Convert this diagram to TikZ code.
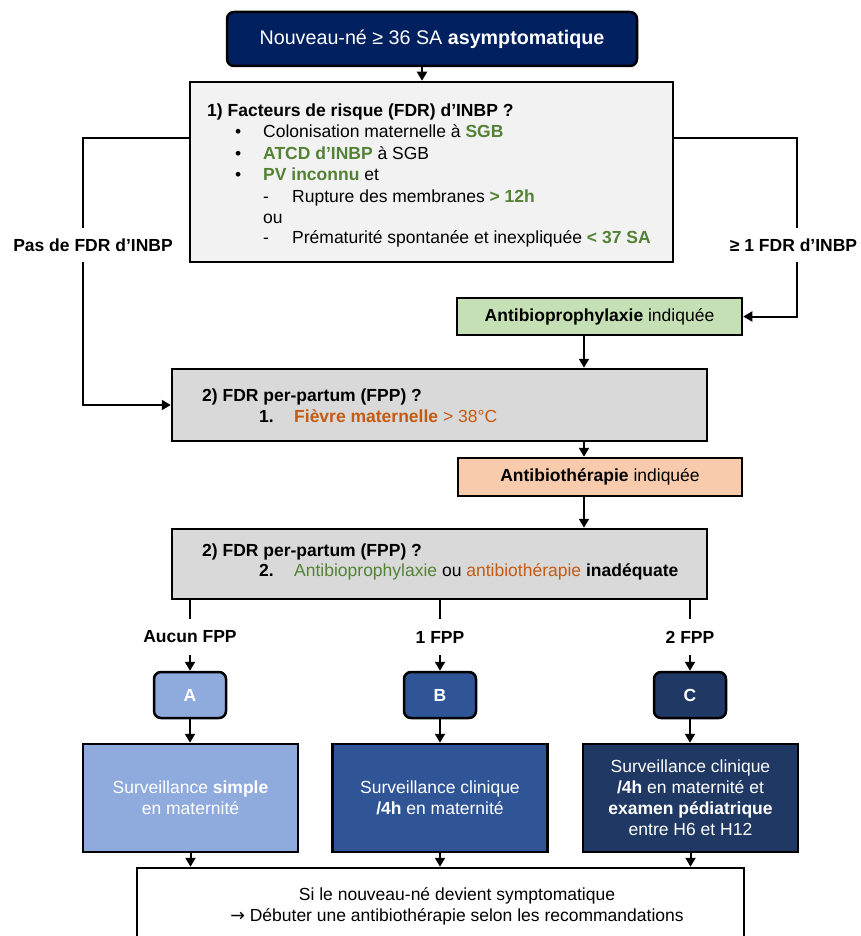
\documentclass[tikz,border=0pt]{standalone}
\usepackage{fontspec}
\setmainfont{Liberation Sans}
\newfontfamily\arrowfont{DejaVu Sans}
\usetikzlibrary{arrows.meta}
\definecolor{navy}{HTML}{002060}
\definecolor{fdrgreen}{HTML}{548235}
\definecolor{fpporange}{HTML}{C55A11}
\definecolor{palegray}{HTML}{F2F2F2}
\definecolor{boxgray}{HTML}{D9D9D9}
\definecolor{prophygreen}{HTML}{C5E0B4}
\definecolor{therapyorange}{HTML}{F8CBAD}
\definecolor{blueA}{HTML}{8FAADC}
\definecolor{blueB}{HTML}{2F5597}
\definecolor{blueC}{HTML}{203864}
\newcommand{\fdrg}[1]{\textcolor{fdrgreen}{#1}}
\newcommand{\fppo}[1]{\textcolor{fpporange}{#1}}

\begin{document}
\begin{tikzpicture}[x=1pt,y=-1pt]
\tikzstyle{every node}+=[inner sep=0pt, font=\fontsize{17.5}{21}\selectfont]
\tikzstyle{box}=[draw=black, line width=2.5pt]
\tikzstyle{line}=[black, line width=2pt]
\tikzstyle{arr}=[line, -{Triangle[length=9pt,width=10pt]}]
\tikzstyle{txt}=[anchor=base west]
\useasboundingbox (0,0) rectangle (861,936);
% start
\node [box, fill=navy, text=white, rounded corners=7pt, minimum width=410, minimum height=54,
  font=\fontsize{19.7}{23}\selectfont] (start) at (432,39) {Nouveau-né ≥ 36 SA \textbf{asymptomatique}};
% 1) FDR d'INBP
\node [box, fill=palegray, minimum width=483, minimum height=180] (fdr) at (431.5,172) {};
\node [txt] (fdrtitle) at (207,117) {\textbf{1) Facteurs de risque (FDR) d’INBP ?}};
\node [txt] (bul1) at (235,138) {•};
\node [txt] (fdr1) at (263,138) {Colonisation maternelle à \fdrg{\textbf{SGB}}};
\node [txt] (bul2) at (235,159.5) {•};
\node [txt] (fdr2) at (263,159.5) {\fdrg{\textbf{ATCD d’INBP}} à SGB};
\node [txt] (bul3) at (235,181) {•};
\node [txt] (fdr3) at (263,181) {\fdrg{\textbf{PV inconnu}} et};
\node [txt] (dash1) at (263,202.5) {-};
\node [txt] (fdr4) at (292,202.5) {Rupture des membranes \fdrg{\textbf{> 12h}}};
\node [txt] (fdrou) at (263,223) {ou};
\node [txt] (dash2) at (263,243.5) {-};
\node [txt] (fdr5) at (292,243.5) {Prématurité spontanée et inexpliquée \fdrg{\textbf{< 37 SA}}};
% branches
\node [minimum height=34] (nofdr) at (93,245) {\textbf{Pas de FDR d’INBP}};
\node [minimum height=34] (yesfdr) at (793.5,245) {\textbf{≥ 1 FDR d’INBP}};
\node [box, fill=prophygreen, minimum width=285, minimum height=37] (prophy) at (599.5,316.5)
  {\textbf{Antibioprophylaxie} indiquée};
% 2) FPP 1
\node [box, fill=boxgray, minimum width=535, minimum height=72] (fpp1) at (439.5,405) {};
\node [txt] (fpp1title) at (202,401) {\textbf{2) FDR per-partum (FPP) ?}};
\node [txt] (fpp1num) at (259,422) {\textbf{1.}};
\node [txt] (fpp1txt) at (294,422) {\fppo{\textbf{Fièvre maternelle} > 38°C}};
\node [box, fill=therapyorange, minimum width=284, minimum height=38] (therapy) at (600,477)
  {\textbf{Antibiothérapie} indiquée};
% 2) FPP 2
\node [box, fill=boxgray, minimum width=535, minimum height=70] (fpp2) at (439.5,564) {};
\node [txt] (fpp2title) at (202,556) {\textbf{2) FDR per-partum (FPP) ?}};
\node [txt] (fpp2num) at (259,576) {\textbf{2.}};
\node [txt] (fpp2txt) at (294,576) {\fdrg{Antibioprophylaxie} ou \fppo{antibiothérapie} \textbf{inadéquate}};
% counts
\node [minimum height=36] (lblA) at (190,637) {\textbf{Aucun FPP}};
\node [minimum height=36] (lblB) at (440,637) {\textbf{1 FPP}};
\node [minimum height=36] (lblC) at (690,637) {\textbf{2 FPP}};
\node [box, fill=blueA, text=white, rounded corners=7pt, minimum width=72, minimum height=46] (letA) at (190,695) {\textbf{A}};
\node [box, fill=blueB, text=white, rounded corners=7pt, minimum width=72, minimum height=46] (letB) at (440,695) {\textbf{B}};
\node [box, fill=blueC, text=white, rounded corners=7pt, minimum width=72, minimum height=46] (letC) at (690,695) {\textbf{C}};
\node [box, fill=blueA, text=white, align=center, minimum width=215, minimum height=108] (survA) at (190.5,798)
  {Surveillance \textbf{simple}\\en maternité};
\node [box, fill=blueB, text=white, align=center, minimum width=215, minimum height=108] (survB) at (440,798)
  {Surveillance clinique\\\textbf{/4h} en maternité};
\node [box, fill=blueC, text=white, align=center, minimum width=215, minimum height=108] (survC) at (690.5,798)
  {Surveillance clinique\\\textbf{/4h} en maternité et\\\textbf{examen pédiatrique}\\entre H6 et H12};
\node [box, fill=white, minimum width=607, minimum height=76] (final) at (440.5,906) {};
\node [align=center] (finaltxt) at (457,906)
  {Si le nouveau-né devient symptomatique\\{\arrowfont →} Débuter une antibiothérapie selon les recommandations};
% connectors
\draw [arr] ([xshift=-10]start.south) -- ([xshift=-10]start.south |- fdr.north);
\draw [line] ([yshift=34]fdr.west) -| ([xshift=-10]nofdr.north);
\draw [arr] ([xshift=-10]nofdr.south) |- (fpp1.west);
\draw [line] ([yshift=34]fdr.east) -| ([xshift=3.5]yesfdr.north);
\draw [arr] ([xshift=3.5]yesfdr.south) |- (prophy.east);
\draw [arr] ([xshift=-15.5]prophy.south) -- ([xshift=-15.5]prophy.south |- fpp1.north);
\draw [arr] ([xshift=-16]therapy.north |- fpp1.south) -- ([xshift=-16]therapy.north);
\draw [arr] ([xshift=-16]therapy.south) -- ([xshift=-16]therapy.south |- fpp2.north);
\draw [line] (lblA.north |- fpp2.south) -- (lblA.north);
\draw [line] (lblB.north |- fpp2.south) -- (lblB.north);
\draw [line] (lblC.north |- fpp2.south) -- (lblC.north);
\draw [arr] (lblA.south) -- (letA.north);
\draw [arr] (lblB.south) -- (letB.north);
\draw [arr] (lblC.south) -- (letC.north);
\draw [arr] (letA.south) -- (letA.south |- survA.north);
\draw [arr] (letB.south) -- (letB.south |- survB.north);
\draw [arr] (letC.south) -- (letC.south |- survC.north);
\draw [arr] (survA.south) -- (survA.south |- final.north);
\draw [arr] (survB.south) -- (survB.south |- final.north);
\draw [arr] (survC.south) -- (survC.south |- final.north);
\end{tikzpicture}
\end{document}
